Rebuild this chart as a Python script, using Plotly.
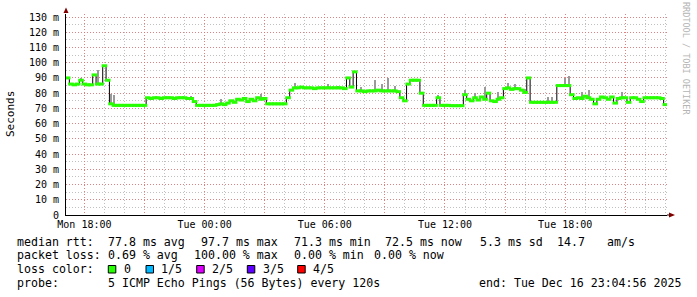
import plotly.graph_objects as go
import pandas as pd

# ---------------- data ----------------
end_time = pd.Timestamp("2025-12-16 23:04:56")
span_hours = 30
step_minutes = 10

median_ms = [
    90, 86, 85.5, 86, 88.5, 86, 85.5, 85.5, 92, 86, 86, 98, 88.5, 73,
    72, 72, 72, 72, 72, 72, 72, 72, 72, 72,
    77, 76.5, 77, 77, 76.5, 77, 77, 77, 76.5, 77, 77, 77, 76.5, 76.5,
    74.5,
    72, 72, 72, 72, 72, 72,
    72.5, 73, 72.5, 73.5, 75, 74, 76, 75.5, 76.5, 74.5, 76, 75, 77, 76, 76.5,
    73, 73, 73, 73, 73, 73,
    77, 82,
    83.5, 83.5, 84, 83.5, 83.5, 83.5, 83, 83.5, 83.5, 83.5, 83.5, 83.5, 83.5, 83.5, 83.5,
    83, 90, 84, 94,
    81.5, 81.5, 81, 81.5, 81.5, 81.5, 82, 81.5, 81.5, 81.5, 81.5, 81.5,
    81, 77, 75, 86, 88.5, 88.5, 88.5, 80, 72, 72, 72, 72, 77,
    72, 72, 72, 71.8, 71.8, 71.8, 71.8,
    79, 76, 75, 77, 75.5, 77.5, 76, 80, 75, 74.5, 76, 77, 83, 83.5, 82.5, 83, 83, 82, 80.5, 90,
    74, 74, 74, 74, 74, 74, 74, 74,
    85, 85, 85, 85,
    79, 76.5, 77, 76.5, 78, 77, 76, 73, 76, 77.5, 77, 76, 77.5, 73.5, 76.5, 77, 77, 74,
    77, 77, 76, 74.5, 77, 77, 77, 77, 77, 76.5, 72.5,
]

spike_idx = [4, 9, 13, 14, 37, 46, 58, 68, 78, 81, 88, 92, 94, 96, 98, 111,
             119, 122, 125, 129, 132, 134, 137, 144, 145, 149, 150, 154, 156, 166]
spike_top_ms = [90, 95.5, 79.5, 79, 78, 76, 79.5, 87, 85.8, 85, 84, 88.5, 86, 90, 85, 79,
                82, 80, 84.3, 80.5, 87, 86, 83, 77.5, 77.5, 90, 91.5, 80.5, 82, 80.5]

y_tick_vals = [0, 10, 20, 30, 40, 50, 60, 70, 80, 90, 100, 110, 120, 130]
y_tick_text = ["0", "10 m", "20 m", "30 m", "40 m", "50 m", "60 m", "70 m",
               "80 m", "90 m", "100 m", "110 m", "120 m", "130 m"]
x_tick_first = pd.Timestamp("2025-12-15 18:00:00")
x_tick_text = ["Mon 18:00", "", "Tue 00:00", "", "Tue 06:00", "",
               "Tue 12:00", "", "Tue 18:00", ""]

loss_labels = ["0", "1/5", "2/5", "3/5", "4/5"]
loss_colors = ["#26ff00", "#00b8ff", "#dd00ff", "#5e00ff", "#ff0000"]

# ---------------- derived ----------------
start_time = end_time - pd.Timedelta(hours=span_hours)
step = pd.Timedelta(minutes=step_minutes)
times = [start_time + i * step for i in range(len(median_ms))]
centers = [t + step / 2 for t in times]
x_tick_vals = [x_tick_first + pd.Timedelta(hours=3 * k) for k in range(len(x_tick_text))]

spike_x = [centers[i] for i in spike_idx]
spike_base = [median_ms[i] for i in spike_idx]
spike_h = [top - median_ms[i] for i, top in zip(spike_idx, spike_top_ms)]

# layout geometry (pixels)
W, H = 697, 297
L, R, T, B = 66, 30, 14, 82
PW, PH = W - L - R, H - T - B


def px(x):
    return (x - L) / PW


def py(y):
    return (H - B - y) / PH


MONO = "DejaVu Sans Mono"
fig = go.Figure()

fig.add_trace(go.Bar(
    x=spike_x, y=spike_h, base=spike_base,
    width=6 * 60 * 1000, marker=dict(color="#9a9a9a", line=dict(width=0)),
    hoverinfo="skip", showlegend=False,
))
fig.add_trace(go.Scatter(
    x=times + [end_time], y=median_ms + [median_ms[-1]], mode="lines",
    line=dict(color="#000000", width=1, shape="hv"),
    hoverinfo="skip", showlegend=False,
))
fig.add_trace(go.Scatter(
    x=centers, y=median_ms, mode="markers",
    marker=dict(symbol="line-ew", size=4, color=loss_colors[0],
                line=dict(color=loss_colors[0], width=3)),
    hoverinfo="skip", showlegend=False,
))

major_grid = "rgba(230,110,110,0.75)"
minor_grid = "rgba(150,150,150,0.6)"
dash = "1px,2px"

fig.update_xaxes(
    type="date", range=[start_time, end_time],
    tickmode="array", tickvals=x_tick_vals, ticktext=x_tick_text,
    showgrid=True, gridcolor=major_grid, griddash=dash, gridwidth=1,
    minor=dict(tickmode="linear", tick0=x_tick_first, dtick=3600000,
               showgrid=True, gridcolor=minor_grid, griddash=dash, gridwidth=1),
    showline=True, linecolor="#000000", linewidth=1,
    zeroline=False, ticks="", tickfont=dict(family=MONO, size=10, color="#000000"),
)
fig.update_yaxes(
    range=[0, 132],
    tickmode="array", tickvals=y_tick_vals, ticktext=y_tick_text,
    showgrid=True, gridcolor=major_grid, griddash=dash, gridwidth=1,
    minor=dict(tickmode="linear", tick0=0, dtick=5,
               showgrid=True, gridcolor=minor_grid, griddash=dash, gridwidth=1),
    showline=True, linecolor="#000000", linewidth=1,
    zeroline=False, ticks="", ticklabelstandoff=4,
    tickfont=dict(family=MONO, size=10, color="#000000"),
)

shapes = []
arrow_col = "#800000"
# y-axis arrow (top)
shapes.append(dict(type="path", xref="paper", yref="paper",
                   path=f"M {px(63.5)},{py(13)} L {px(68.5)},{py(13)} L {px(66)},{py(7.5)} Z",
                   fillcolor=arrow_col, line=dict(width=0)))
# x-axis extension + arrow (right)
shapes.append(dict(type="line", xref="paper", yref="paper",
                   x0=1, x1=px(670), y0=0, y1=0, line=dict(color="#000000", width=1)))
shapes.append(dict(type="path", xref="paper", yref="paper",
                   path=f"M {px(669)},{py(212.5)} L {px(669)},{py(217.5)} L {px(675)},{py(215)} Z",
                   fillcolor=arrow_col, line=dict(width=0)))

# loss colour squares
sq_x = [108.3, 146.0, 196.7, 247.3, 297.7]
lab_x = [123.3, 160.0, 211.0, 261.7, 312.3]
for sx, col in zip(sq_x, loss_colors):
    shapes.append(dict(type="rect", xref="paper", yref="paper",
                       x0=px(sx), x1=px(sx + 7.5), y0=py(273), y1=py(265.5),
                       fillcolor=col, line=dict(color="#000000", width=1)))

ann = []


def text(x, y, s, size=11.6, color="#000000", angle=0, xanchor="left"):
    ann.append(dict(xref="paper", yref="paper", x=px(x), y=py(y), text=s,
                    showarrow=False, xanchor=xanchor, yanchor="middle",
                    textangle=angle, borderpad=0,
                    font=dict(family=MONO, size=size, color=color)))


y1, y2, y3, y4 = 241.5, 255.3, 269.3, 283
text(16, y1, "median rtt:")
text(107.3, y1, "77.8 ms avg")
text(200, y1, "97.7 ms max")
text(292.7, y1, "71.3 ms min")
text(384, y1, "72.5 ms now")
text(479, y1, "5.3 ms sd")
text(556, y1, "14.7")
text(606, y1, "am/s")

text(16, y2, "packet loss:")
text(107.3, y2, "0.69 % avg")
text(193.3, y2, "100.00 % max")
text(292.7, y2, "0.00 % min")
text(372.5, y2, "0.00 % now")

text(16, y3, "loss color:")
for lx, lab in zip(lab_x, loss_labels):
    text(lx, y3, lab)

text(16, y4, "probe:")
text(107.3, y4, "5 ICMP Echo Pings (56 Bytes) every 120s")
text(478.3, y4, "end: Tue Dec 16 23:04:56 2025")

# axis title and watermark
text(11, 114, "Seconds", size=11, angle=-90, xanchor="center")
text(686, 58, "RRDTOOL / TOBI OETIKER", size=8.5, color="#b4b4b4", angle=90, xanchor="center")

fig.update_layout(
    width=W, height=H, autosize=False,
    margin=dict(l=L, r=R, t=T, b=B, pad=0),
    paper_bgcolor="#ffffff", plot_bgcolor="#ffffff",
    showlegend=False, shapes=shapes, annotations=ann,
    bargap=0, barmode="overlay",
)

fig.write_html("out.html", config={"displayModeBar": False})
